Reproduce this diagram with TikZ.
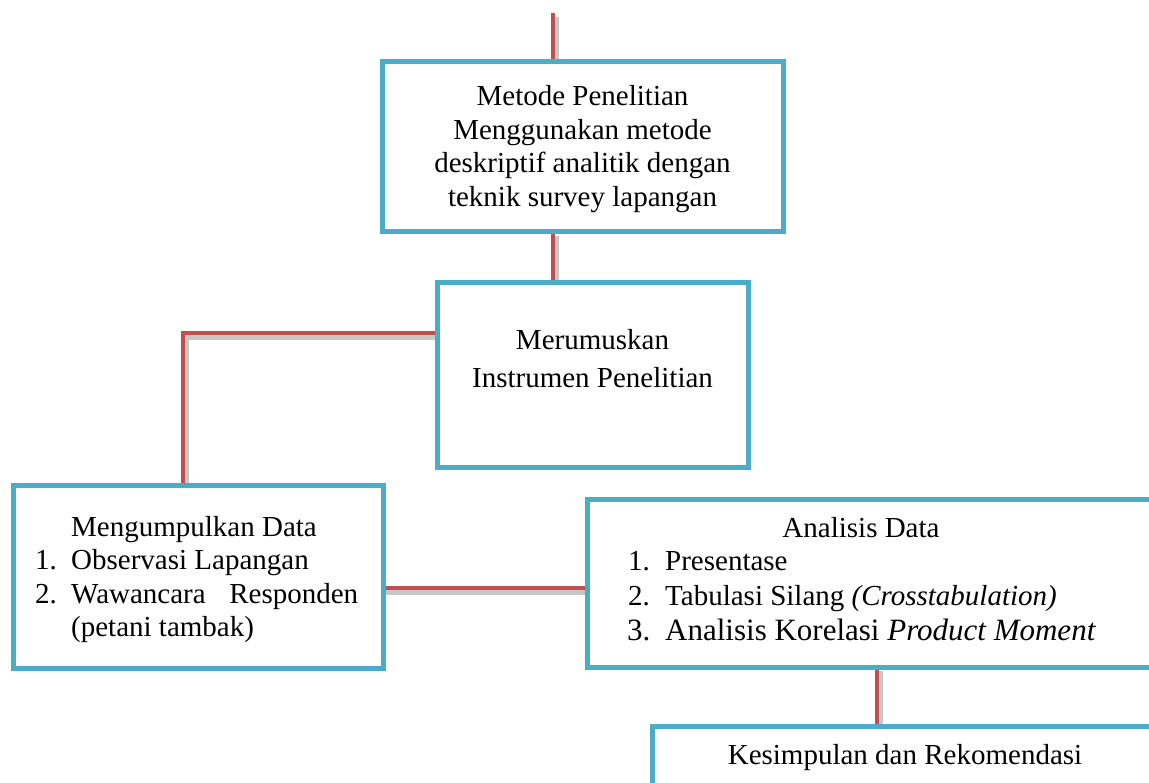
\documentclass[tikz,border=0pt]{standalone}
\usepackage{fontspec}
\setmainfont{Liberation Serif}
\usetikzlibrary{backgrounds}
\definecolor{boxc}{HTML}{4BACC6}
\definecolor{linec}{HTML}{C0504D}
\begin{document}
\begin{tikzpicture}[x=1pt,y=-1pt,
  box/.style={draw=boxc, line width=5pt, fill=white, rectangle, inner sep=0pt, outer sep=0pt, anchor=north west},
  txt/.style={inner sep=0pt, font=\fontsize{29}{33}\selectfont},
  txtb/.style={inner sep=0pt, font=\fontsize{31}{35}\selectfont},
  conn/.style={draw=linec, line width=4.5pt,
    preaction={draw=black!22, line width=6pt, transform canvas={shift={(3,4)}}}}
]
\useasboundingbox (0,0) rectangle (1149,783);
\clip (0,0) rectangle (1149,783);

% boxes
\node[box, minimum width=401, minimum height=170] (b1) at (382,62) {};
\node[box, minimum width=311, minimum height=185] (b2) at (437,283) {};
\node[box, minimum width=370, minimum height=183] (b3) at (13,485) {};
\node[box, minimum width=600, minimum height=168] (b4) at (587,499) {};
\node[box, minimum width=600, minimum height=100] (b5) at (652,726) {};

% text box 1
\node[txt, anchor=base] (m1) at (582.5,106) {Metode Penelitian};
\node[txt, anchor=base] (m2) at (582.5,140) {Menggunakan metode};
\node[txt, anchor=base] (m3) at (582.5,173) {deskriptif analitik dengan};
\node[txt, anchor=base] (m4) at (582.5,207) {teknik survey lapangan};

% text box 2
\node[txt, anchor=base] (r1) at (592.5,350) {Merumuskan};
\node[txt, anchor=base] (r2) at (592.5,388) {Instrumen Penelitian};

% text box 3
\node[txt, anchor=base west] (k0) at (71,536) {Mengumpulkan Data};
\node[txt, anchor=base west] (k1n) at (35,569) {1.};
\node[txt, anchor=base west] (k1) at (71,569) {Observasi Lapangan};
\node[txt, anchor=base west] (k2n) at (35,603) {2.};
\node[txt, anchor=base west] (k2) at (71,603) {\makebox[287pt][l]{Wawancara\hfill Responden}};
\node[txt, anchor=base west] (k3) at (71,636) {(petani tambak)};

% text box 4
\node[txt, anchor=base] (a0) at (861,537) {Analisis Data};
\node[txt, anchor=base west] (a1n) at (628,570) {1.};
\node[txt, anchor=base west] (a1) at (665,570) {Presentase};
\node[txt, anchor=base west] (a2n) at (628,605) {2.};
\node[txt, anchor=base west] (a2) at (665,605) {Tabulasi Silang \textit{(Crosstabulation)}};
\node[txtb, anchor=base west] (a3n) at (627,640) {3.};
\node[txtb, anchor=base west] (a3) at (665,640) {Analisis Korelasi \textit{Product Moment}};

% text box 5
\node[txt, anchor=base] (s0) at (905,764) {Kesimpulan dan Rekomendasi};

% connectors
\coordinate (t0) at (553,13);
\coordinate (e1) at (183,333);
\coordinate (c1) at (0,588);
\coordinate (d1) at (877,0);
\begin{pgfonlayer}{background}
\draw[conn] (t0) -- (t0 |- b1.north);
\draw[conn] (b1.south -| t0) -- (b2.north -| t0);
\draw[conn] (b2.west |- e1) -- (e1) -- (e1 |- b3.north);
\draw[conn] (b3.east |- c1) -- (b4.west |- c1);
\draw[conn] (b4.south -| d1) -- (b5.north -| d1);
\end{pgfonlayer}
\end{tikzpicture}
\end{document}
